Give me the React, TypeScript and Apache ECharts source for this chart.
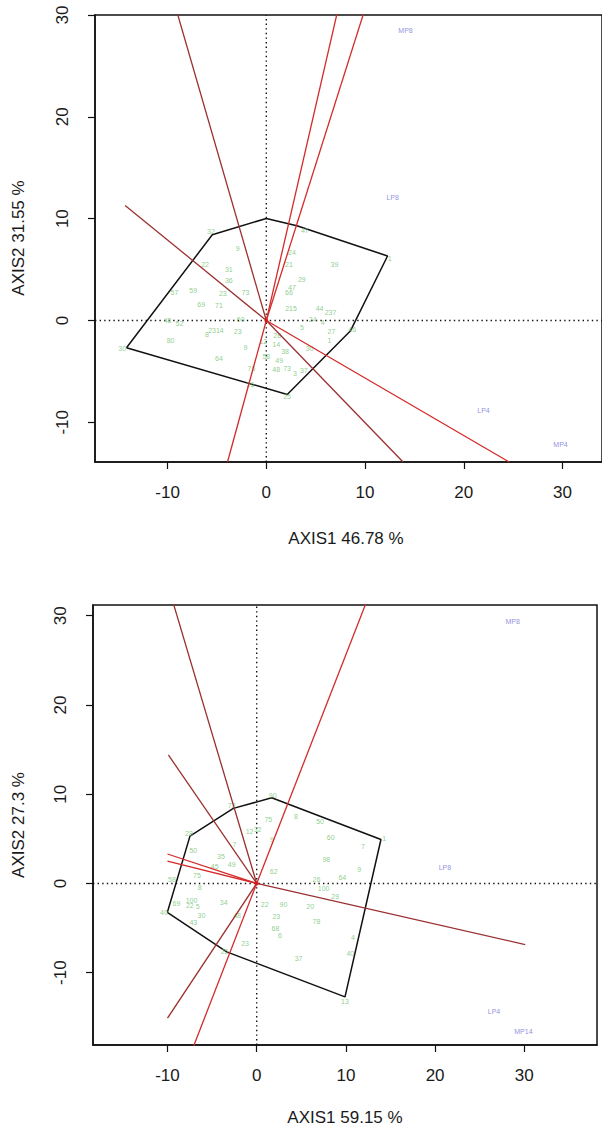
import React, { useEffect, useRef } from "react";
import * as echarts from "echarts";

const FONT = "'Liberation Sans', Arial, Helvetica, sans-serif";
const TICKS = [-10, 0, 10, 20, 30];

// ---------- Biplot 1 ----------
const xTitle1 = "AXIS1 46.78 %";
const yTitle1 = "AXIS2 31.55 %";
const hull1: [number, number][] = [
  [-14.16, -2.68], [-5.47, 8.42], [0.0, 10.02], [3.1, 9.3],
  [12.28, 6.33], [8.51, -1.04], [2.12, -7.27],
];
const rays1: [number, number][] = [
  [-9.05, 30.3], [7.2, 30.3], [9.9, 30.3], [-14.3, 11.3],
  [13.85, -13.9], [24.6, -13.9], [-3.93, -13.9],
];
const genotypes1: [string, number, number][] = [
  ["30", -14.6, -2.8], ["32", -5.6, 8.7], ["47", 3.9, 8.8], ["1", 12.5, 6.1],
  ["46", 8.7, -0.9], ["25", 2.1, -7.5], ["9", -2.9, 7.1], ["24", 2.6, 6.7],
  ["21", 2.3, 5.5], ["39", 6.9, 5.5], ["22", -6.2, 5.5], ["31", -3.8, 5.0],
  ["36", -3.8, 3.9], ["29", 3.6, 4.0], ["47", 2.6, 3.2], ["66", 2.3, 2.7],
  ["57", -9.3, 2.7], ["59", -7.4, 2.9], ["23", -4.4, 2.6], ["73", -2.1, 2.7],
  ["69", -6.6, 1.6], ["71", -4.8, 1.5], ["215", 2.5, 1.2], ["44", 5.4, 1.2],
  ["237", 6.5, 0.8], ["60", -2.6, 0.1], ["48", -10.0, 0.0], ["52", -8.8, -0.3],
  ["24", 4.7, 0.1], ["4", 5.7, -0.2], ["2314", -5.1, -1.0], ["8", -6.0, -1.4],
  ["23", -2.9, -1.1], ["28", 1.1, -1.5], ["5", 3.6, -0.7], ["27", 6.6, -1.1],
  ["80", -9.7, -2.0], ["1", 6.4, -2.0], ["12", -0.3, -2.1], ["14", 1.0, -2.4],
  ["30", 4.4, -2.8], ["9", -2.1, -2.7], ["64", -4.8, -3.7], ["58", 0.0, -3.5],
  ["49", 1.3, -3.9], ["38", 1.9, -3.0], ["48", 1.0, -4.8], ["73", 2.1, -4.7],
  ["3", 2.9, -5.2], ["76", -1.5, -4.7], ["37", 3.8, -4.9], ["26", -1.6, -6.3],
];
const environments1: [string, number, number][] = [
  ["MP8", 14.1, 28.5], ["LP8", 12.8, 12.1], ["LP4", 22.0, -8.8], ["MP4", 29.8, -12.2],
];

// ---------- Biplot 2 ----------
const xTitle2 = "AXIS1 59.15 %";
const yTitle2 = "AXIS2 27.3 %";
const hull2: [number, number][] = [
  [-10.02, -3.25], [-7.48, 5.3], [-2.62, 8.41], [1.68, 9.6],
  [13.93, 4.93], [9.9, -12.71], [-3.36, -7.67],
];
const rays2: [number, number][] = [
  [-9.35, 31.4], [12.25, 31.4], [-9.9, 14.4], [-10.0, 3.3],
  [-10.0, 2.5], [30.1, -6.85], [-10.0, -15.1], [-7.1, -18.3],
];
const genotypes2: [string, number, number][] = [
  ["40", -10.4, -3.3], ["28", -7.6, 5.6], ["72", -2.8, 8.7], ["90", 1.8, 9.9],
  ["1", 14.3, 5.0], ["13", 9.9, -13.2], ["25", -3.6, -7.6],
  ["75", 1.3, 7.2], ["8", 4.4, 7.5], ["50", 7.1, 6.9], ["12", -0.8, 5.8],
  ["32", 0.1, 6.0], ["60", 8.3, 5.2], ["7", 11.9, 4.1], ["9", 1.7, 4.9],
  ["50", -7.1, 3.7], ["7", -2.5, 4.4], ["35", -4.0, 3.0], ["98", 7.8, 2.7],
  ["9", 11.5, 1.6], ["49", -2.8, 2.1], ["45", -4.7, 1.9], ["75", -6.7, 0.9],
  ["62", 1.9, 1.3], ["26", 6.7, 0.4], ["100", 7.5, -0.6], ["29", 8.8, -1.5],
  ["64", 9.6, 0.7], ["58", -9.5, 0.4], ["8", -6.4, -0.4], ["100", -7.3, -1.9],
  ["22", -7.5, -2.5], ["69", -9.0, -2.2], ["5", -6.6, -2.6], ["30", -6.2, -3.6],
  ["43", -7.1, -4.4], ["34", -3.7, -2.1], ["48", -2.2, -3.6], ["22", 0.9, -2.4],
  ["90", 3.0, -2.4], ["23", 2.2, -3.7], ["20", 6.0, -2.6], ["78", 6.7, -4.3],
  ["68", 2.1, -5.0], ["6", 2.6, -5.8], ["23", -1.3, -6.7], ["37", 4.7, -8.4],
  ["4", 10.8, -6.0], ["40", 10.5, -7.8],
];
const environments2: [string, number, number][] = [
  ["MP8", 28.7, 29.3], ["LP8", 21.1, 1.8], ["LP4", 26.6, -14.4], ["MP14", 29.9, -16.6],
];

// ---------- styling / layout ----------
const RED = "#d42a2a";
const DARK_RED = "#9a3030";
const rayColors1 = [DARK_RED, RED, RED, DARK_RED, DARK_RED, RED, RED];
const rayColors2 = [DARK_RED, RED, DARK_RED, RED, RED, DARK_RED, DARK_RED, RED];

type Panel = {
  grid: { left: number; top: number; width: number; height: number };
  xRange: [number, number];
  yRange: [number, number];
  hull: [number, number][];
  rays: [number, number][];
  rayColors: string[];
  genotypes: [string, number, number][];
  environments: [string, number, number][];
  xTitle: string;
  yTitle: string;
  xTitlePos: [number, number];
  yTitlePos: [number, number];
};

const panels: Panel[] = [
  {
    grid: { left: 95, top: 15, width: 523, height: 447 },
    xRange: [-17.35, 34.0],
    yRange: [-13.9, 30.0],
    hull: hull1, rays: rays1, rayColors: rayColors1,
    genotypes: genotypes1, environments: environments1,
    xTitle: xTitle1, yTitle: yTitle1,
    xTitlePos: [346, 538], yTitlePos: [18, 238],
  },
  {
    grid: { left: 93, top: 605, width: 504, height: 440 },
    xRange: [-18.35, 38.15],
    yRange: [-18.1, 31.2],
    hull: hull2, rays: rays2, rayColors: rayColors2,
    genotypes: genotypes2, environments: environments2,
    xTitle: xTitle2, yTitle: yTitle2,
    xTitlePos: [345, 1117], yTitlePos: [18, 825],
  },
];

function buildOption() {
  const grids: any[] = [];
  const xAxes: any[] = [];
  const yAxes: any[] = [];
  const series: any[] = [];
  const graphics: any[] = [];

  panels.forEach((p, i) => {
    grids.push({
      ...p.grid,
      show: true,
      borderColor: "#111",
      borderWidth: 1.5,
      backgroundColor: "transparent",
      containLabel: false,
    });
    const axisCommon = {
      type: "value",
      gridIndex: i,
      splitLine: { show: false },
      axisLine: { show: true, onZero: false, lineStyle: { color: "#111", width: 1.5 } },
      axisTick: { show: true, inside: false, length: 7, customValues: TICKS, lineStyle: { color: "#111", width: 1.2 } },
    };
    xAxes.push({
      ...axisCommon,
      min: p.xRange[0],
      max: p.xRange[1],
      axisLabel: { customValues: TICKS, margin: 22, fontSize: 17, color: "#1a1a1a", fontFamily: FONT },
    });
    yAxes.push({
      ...axisCommon,
      min: p.yRange[0],
      max: p.yRange[1],
      axisLabel: { customValues: TICKS, rotate: 90, margin: 24, fontSize: 17, color: "#1a1a1a", fontFamily: FONT },
    });

    const dotted = { color: "#111", width: 1.4, type: [1.4, 3.2] };
    series.push({
      type: "line", xAxisIndex: i, yAxisIndex: i, silent: true, symbol: "none",
      data: [[p.xRange[0], 0], [p.xRange[1], 0]], lineStyle: dotted, z: 1,
    });
    series.push({
      type: "line", xAxisIndex: i, yAxisIndex: i, silent: true, symbol: "none",
      data: [[0, p.yRange[0]], [0, p.yRange[1]]], lineStyle: dotted, z: 1,
    });

    series.push({
      type: "line", xAxisIndex: i, yAxisIndex: i, silent: true, symbol: "none",
      data: [...p.hull, p.hull[0]],
      lineStyle: { color: "#111", width: 1.5 }, z: 2,
    });

    series.push({
      type: "scatter", xAxisIndex: i, yAxisIndex: i, silent: true, symbolSize: 0,
      data: p.genotypes.map(([name, x, y]) => ({ name, value: [x, y] })),
      label: {
        show: true, position: "inside", formatter: "{b}",
        fontSize: 7, color: "#72bf72", fontFamily: FONT,
      },
      z: 3,
    });
    series.push({
      type: "scatter", xAxisIndex: i, yAxisIndex: i, silent: true, symbolSize: 0,
      data: p.environments.map(([name, x, y]) => ({ name, value: [x, y] })),
      label: {
        show: true, position: "inside", formatter: "{b}",
        fontSize: 7, color: "#7373d9", fontFamily: FONT,
      },
      z: 3,
    });

    p.rays.forEach((end, k) => {
      series.push({
        type: "line", xAxisIndex: i, yAxisIndex: i, silent: true, symbol: "none", clip: true,
        data: [[0, 0], end],
        lineStyle: { color: p.rayColors[k], width: 1.3 }, z: 4,
      });
    });

    series.push({
      type: "scatter", xAxisIndex: i, yAxisIndex: i, silent: true,
      symbolSize: 4, data: [[0, 0]], itemStyle: { color: "#e01010" }, z: 5,
    });

    graphics.push({
      type: "text", x: p.xTitlePos[0], y: p.xTitlePos[1],
      style: { text: p.xTitle, font: `17px ${FONT}`, fill: "#1a1a1a", textAlign: "center", textVerticalAlign: "middle" },
    });
    graphics.push({
      type: "text", x: p.yTitlePos[0], y: p.yTitlePos[1], rotation: Math.PI / 2,
      style: { text: p.yTitle, font: `17px ${FONT}`, fill: "#1a1a1a", textAlign: "center", textVerticalAlign: "middle" },
    });
  });

  return {
    animation: false,
    backgroundColor: "#ffffff",
    grid: grids,
    xAxis: xAxes,
    yAxis: yAxes,
    series,
    graphic: graphics,
  };
}

export default function App() {
  const ref = useRef<HTMLDivElement>(null);
  useEffect(() => {
    if (!ref.current) return;
    const chart = echarts.init(ref.current, undefined, { renderer: "svg" });
    chart.setOption(buildOption() as any);
    return () => chart.dispose();
  }, []);
  return (
    <div
      ref={ref}
      style={{ position: "absolute", left: 0, top: 0, width: 602, height: 1133, background: "#fff" }}
    />
  );
}
